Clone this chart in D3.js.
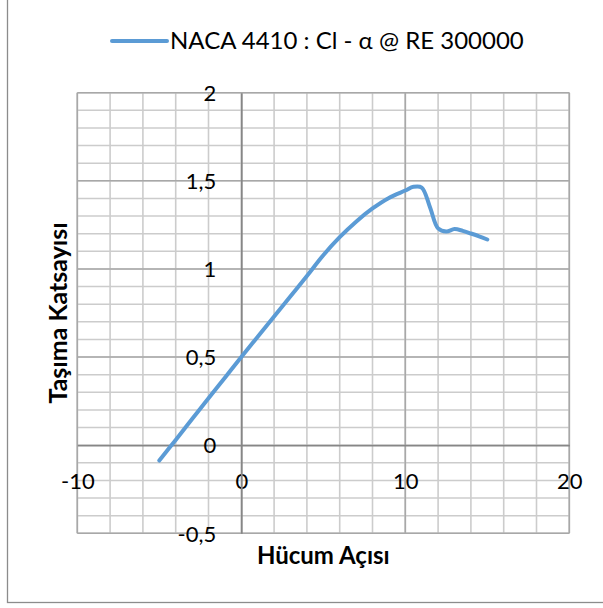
<!DOCTYPE html>
<html>
<head>
<meta charset="utf-8">
<script src="https://cdn.jsdelivr.net/npm/d3@7"></script>
<style>
  html, body { margin: 0; padding: 0; background: #fff; }
  svg { display: block; }
  text { font-family: Lato, "Open Sans", sans-serif; fill: #000; }
</style>
</head>
<body>
<svg id="chart" width="603" height="608"></svg>
<script>
// ---- data ----
const seriesName = "NACA 4410 : Cl - \u03b1 @ RE 300000";
const alpha = [-5, -4, -3, -2, -1, 0, 1, 2, 3, 4, 5, 6, 7, 8, 9, 10, 10.5, 11, 11.5, 12, 12.5, 13, 13.5, 14, 14.5, 15];
const cl    = [-0.087, 0.030, 0.148, 0.266, 0.383, 0.500, 0.615, 0.730, 0.845, 0.960, 1.078, 1.180, 1.268, 1.343, 1.403, 1.445, 1.466, 1.462, 1.352, 1.230, 1.212, 1.226, 1.216, 1.201, 1.185, 1.167];
const xTicks = [-10, 0, 10, 20];
const xTickLabels = ["-10", "0", "10", "20"];
const yTicks = [-0.5, 0, 0.5, 1, 1.5, 2];
const yTickLabels = ["-0,5", "0", "0,5", "1", "1,5", "2"];
const xMinorTicks = d3.range(-10, 20.001, 2);
const yMinorTicks = d3.range(-0.5, 2.0001, 0.1).map(v => Math.round(v * 10) / 10);
const xTitle = "H\u00fccum A\u00e7\u0131s\u0131";
const yTitle = "Ta\u015f\u0131ma Katsay\u0131s\u0131";

// ---- layout ----
const svg = d3.select("#chart");
const plot = { left: 77.3, right: 569.3, top: 92.7, bottom: 533.3 };
const x = d3.scaleLinear().domain([-10, 20]).range([plot.left, plot.right]);
const y = d3.scaleLinear().domain([-0.5, 2]).range([plot.bottom, plot.top]);

// outer chart border
svg.append("rect")
  .attr("x", 7.5).attr("y", -10).attr("width", 620).attr("height", 612.5)
  .attr("fill", "none").attr("stroke", "#8c8c8c").attr("stroke-width", 1.3);

// minor gridlines
const g = svg.append("g");
g.selectAll(".vminor").data(xMinorTicks).enter().append("line")
  .attr("x1", d => x(d)).attr("x2", d => x(d))
  .attr("y1", plot.top).attr("y2", plot.bottom)
  .attr("stroke", "#cccccc").attr("stroke-width", 1.6);
g.selectAll(".hminor").data(yMinorTicks).enter().append("line")
  .attr("y1", d => y(d)).attr("y2", d => y(d))
  .attr("x1", plot.left).attr("x2", plot.right)
  .attr("stroke", "#cccccc").attr("stroke-width", 1.6);
// major gridlines
g.selectAll(".vmajor").data(xTicks.filter(d => d !== 0)).enter().append("line")
  .attr("x1", d => x(d)).attr("x2", d => x(d))
  .attr("y1", plot.top).attr("y2", plot.bottom)
  .attr("stroke", "#a8a8a8").attr("stroke-width", 1.6);
g.selectAll(".hmajor").data(yTicks.filter(d => d !== 0)).enter().append("line")
  .attr("y1", d => y(d)).attr("y2", d => y(d))
  .attr("x1", plot.left).attr("x2", plot.right)
  .attr("stroke", "#a8a8a8").attr("stroke-width", 1.6);

// axes crossing at zero
const xAxis = d3.axisBottom(x).tickValues(xTicks).tickSize(0).tickPadding(0)
  .tickFormat((d, i) => xTickLabels[i]);
const xg = svg.append("g").attr("transform", `translate(0,${y(0)})`).call(xAxis);
xg.select(".domain").attr("stroke", "#868686").attr("stroke-width", 1.8);
xg.selectAll(".tick text")
  .attr("y", 36).attr("dy", "0.35em")
  .style("font-size", "22px").style("font-family", "Lato, sans-serif").attr("fill", "#000");

const yAxis = d3.axisLeft(y).tickValues(yTicks).tickSize(0).tickPadding(0)
  .tickFormat((d, i) => yTickLabels[i]);
const yg = svg.append("g").attr("transform", `translate(${x(0)},0)`).call(yAxis);
yg.select(".domain").attr("stroke", "#868686").attr("stroke-width", 1.8);
yg.selectAll(".tick text")
  .attr("x", -25).attr("dy", "0.35em").attr("text-anchor", "end")
  .style("font-size", "22px").style("font-family", "Lato, sans-serif").attr("fill", "#000");

// series line
const line = d3.line()
  .x((d, i) => x(alpha[i]))
  .y((d, i) => y(cl[i]))
  .curve(d3.curveCatmullRom.alpha(0.5));
svg.append("path")
  .datum(cl)
  .attr("d", line)
  .attr("fill", "none")
  .attr("stroke", "#5b9bd5")
  .attr("stroke-width", 4)
  .attr("stroke-linecap", "round")
  .attr("stroke-linejoin", "round");

// legend
const lg = svg.append("g");
lg.append("line").attr("x1", 112).attr("x2", 167).attr("y1", 41).attr("y2", 41)
  .attr("stroke", "#5b9bd5").attr("stroke-width", 4).attr("stroke-linecap", "round");
lg.append("text").attr("x", 170).attr("y", 41).attr("dy", "0.35em")
  .style("font-size", "24px").text(seriesName);

// axis titles
svg.append("text")
  .attr("x", (plot.left + plot.right) / 2).attr("y", 556).attr("dy", "0.35em")
  .attr("text-anchor", "middle")
  .style("font-size", "24px").style("font-weight", "bold")
  .text(xTitle);
svg.append("text")
  .attr("transform", `translate(58,${(plot.top + plot.bottom) / 2}) rotate(-90)`)
  .attr("dy", "0.35em")
  .attr("text-anchor", "middle")
  .style("font-size", "25px").style("font-weight", "bold")
  .text(yTitle);
</script>
</body>
</html>
